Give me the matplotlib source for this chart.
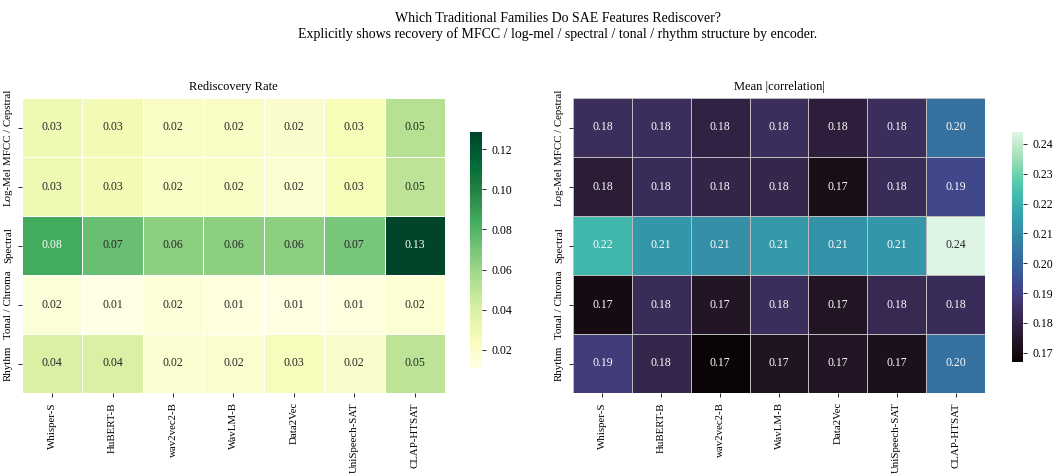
import numpy as np
import matplotlib
matplotlib.use("Agg")
import matplotlib.pyplot as plt
import seaborn as sns

plt.rcParams['font.family'] = ['Liberation Serif', 'DejaVu Serif']

encoders = ['Whisper-S', 'HuBERT-B', 'wav2vec2-B', 'WavLM-B', 'Data2Vec', 'UniSpeech-SAT', 'CLAP-HTSAT']
families = ['MFCC / Cepstral', 'Log-Mel', 'Spectral', 'Tonal / Chroma', 'Rhythm']

# rediscovery rate per family (rows) and encoder (cols)
rate = np.array([
    [0.030, 0.028, 0.022, 0.022, 0.020, 0.026, 0.052],
    [0.030, 0.028, 0.022, 0.022, 0.018, 0.026, 0.050],
    [0.084, 0.074, 0.064, 0.064, 0.064, 0.070, 0.1285],
    [0.016, 0.011, 0.016, 0.013, 0.012, 0.013, 0.017],
    [0.040, 0.040, 0.018, 0.019, 0.025, 0.020, 0.050],
])

# mean |correlation|
corr = np.array([
    [0.184, 0.184, 0.179, 0.184, 0.178, 0.184, 0.203],
    [0.177, 0.183, 0.180, 0.181, 0.171, 0.183, 0.192],
    [0.222, 0.213, 0.211, 0.214, 0.212, 0.213, 0.244],
    [0.170, 0.183, 0.174, 0.184, 0.174, 0.182, 0.183],
    [0.189, 0.181, 0.1669, 0.173, 0.174, 0.172, 0.203],
])

fig = plt.figure(figsize=(10.62, 4.76), dpi=100)

ax1 = fig.add_axes([22 / 1062, 1 - 393 / 476, 423 / 1062, 295 / 476])
cax1 = fig.add_axes([470 / 1062, 1 - 368 / 476, 12 / 1062, 236 / 476])
ax2 = fig.add_axes([573 / 1062, 1 - 393 / 476, 412 / 1062, 295 / 476])
cax2 = fig.add_axes([1012 / 1062, 1 - 362 / 476, 11 / 1062, 230 / 476])

sns.heatmap(rate, ax=ax1, cbar_ax=cax1, cmap='YlGn', annot=True, fmt='.2f',
            linewidths=0.4, linecolor='white', annot_kws={'size': 8.5},
            xticklabels=encoders, yticklabels=families)
sns.heatmap(corr, ax=ax2, cbar_ax=cax2, cmap='mako', annot=True, fmt='.2f',
            linewidths=0.4, linecolor='#bbbbbb', annot_kws={'size': 8.5},
            xticklabels=encoders, yticklabels=families)

# darker green cells get light text
for t in ax1.texts:
    if float(t.get_text()) >= 0.08:
        t.set_color('white')

for ax, title in [(ax1, 'Rediscovery Rate'), (ax2, 'Mean |correlation|')]:
    ax.set_title(title, fontsize=9, pad=6)
    ax.tick_params(axis='both', labelsize=7.8, length=3, width=0.6)
    plt.setp(ax.get_xticklabels(), rotation=90)
    plt.setp(ax.get_yticklabels(), rotation=90, va='center')

for cax in (cax1, cax2):
    cax.tick_params(labelsize=8.5, length=3, width=0.6)
    cax.set_frame_on(False)

fig.suptitle('Which Traditional Families Do SAE Features Rediscover?\n'
             'Explicitly shows recovery of MFCC / log-mel / spectral / tonal / rhythm structure by encoder.',
             fontsize=10, x=0.525, y=0.975)

fig.savefig('out.png', dpi=100)
